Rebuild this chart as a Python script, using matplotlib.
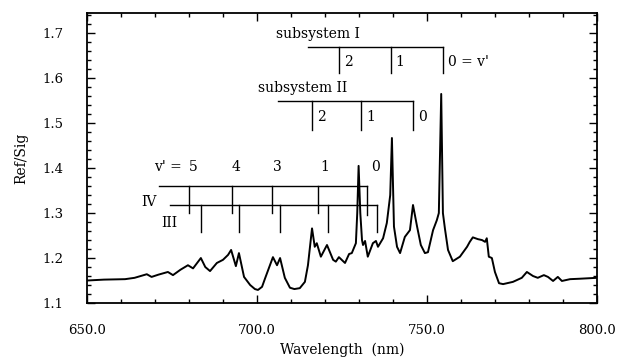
import matplotlib
matplotlib.use("Agg")
import matplotlib.pyplot as plt
from matplotlib.ticker import MultipleLocator, FormatStrFormatter

plt.rcParams['font.family'] = ['DejaVu Serif']

# spectrum
wavelength = [650, 655, 661.2, 664, 667.6, 669, 671, 673.8, 675.3, 677.5,
              679.7, 681.2, 683.5, 684.8, 686.2, 688.2, 690, 691.5, 692.4, 693.8,
              694.7, 696.2, 698, 699.4, 700.3, 701.5, 702.4, 704.7, 705.9, 706.8,
              708.2, 709.7, 711, 712.6, 714.1, 715, 716.2, 717, 717.6, 718.8,
              720.6, 722.4, 723.2, 724.1, 725.9, 727.1, 727.9, 729.1, 729.5, 729.9,
              730.4, 730.9, 731.2, 731.8, 732.6, 734.1, 735, 735.6, 737.1, 738.2,
              739.2, 739.7, 740.3, 741.2, 742.1, 743.5, 745, 745.9, 747.1, 748.2,
              749.4, 750.3, 751.8, 752.9, 753.5, 754.2, 754.7, 755.3, 756.2, 757.6,
              759.7, 761.8, 762.6, 763.5, 765, 766.2, 767.1, 767.6, 768.2, 769.1,
              770, 771.2, 772.4, 775.3, 777.9, 779.4, 781.2, 782.6, 784.4, 785.6,
              787.1, 788.5, 789.7, 792.1, 795, 800]
ratio = [1.150, 1.152, 1.153, 1.156, 1.164, 1.158, 1.163, 1.169, 1.162, 1.174,
         1.184, 1.177, 1.200, 1.180, 1.171, 1.189, 1.196, 1.207, 1.218, 1.182,
         1.211, 1.158, 1.140, 1.131, 1.129, 1.136, 1.155, 1.202, 1.184, 1.200,
         1.156, 1.134, 1.131, 1.133, 1.147, 1.184, 1.266, 1.225, 1.233, 1.203,
         1.229, 1.196, 1.192, 1.202, 1.189, 1.209, 1.211, 1.233, 1.300, 1.405,
         1.300, 1.240, 1.229, 1.238, 1.203, 1.233, 1.238, 1.225, 1.244, 1.278,
         1.340, 1.467, 1.270, 1.225, 1.211, 1.247, 1.262, 1.318, 1.270, 1.229,
         1.211, 1.213, 1.262, 1.284, 1.300, 1.565, 1.300, 1.265, 1.218, 1.193,
         1.203, 1.225, 1.236, 1.246, 1.242, 1.240, 1.236, 1.244, 1.203, 1.200,
         1.169, 1.144, 1.142, 1.147, 1.156, 1.169, 1.160, 1.156, 1.162, 1.158,
         1.149, 1.158, 1.149, 1.153, 1.154, 1.156]

# band-head assignments (nm)
sub1_ticks = [724.1, 739.4, 754.7]
sub1_labels = ["2", "1", "0 = v'"]
sub2_ticks = [716.2, 730.6, 745.9]
sub2_labels = ["2", "1", "0"]
iv_ticks = [680.0, 692.6, 704.4, 717.9, 732.4]
iii_ticks = [683.5, 694.7, 706.8, 720.9, 735.3]
vprime_labels = ["5", "4", "3", "1", "0"]
vprime_pos = [681.2, 693.8, 706.0, 719.8, 735.0]

fig = plt.figure(figsize=(6.33, 3.62), dpi=100)
ax = fig.add_axes([0.1374, 0.163, 0.8056, 0.801])

ax.plot(wavelength, ratio, color='black', lw=1.4)

fs = 10
lk = dict(color='black', lw=1.0)
# subsystem I
ax.plot([715.0, sub1_ticks[-1]], [1.669, 1.669], **lk)
for t in sub1_ticks:
    ax.plot([t, t], [1.669, 1.611], **lk)
for t, s in zip(sub1_ticks, sub1_labels):
    ax.text(t + 1.4, 1.636, s, ha='left', va='center', fontsize=fs)
ax.text(730.3, 1.698, "subsystem I", ha='right', va='center', fontsize=fs)

# subsystem II
ax.plot([706.2, sub2_ticks[-1]], [1.549, 1.549], **lk)
for t in sub2_ticks:
    ax.plot([t, t], [1.549, 1.484], **lk)
for t, s in zip(sub2_ticks, sub2_labels):
    ax.text(t + 1.6, 1.513, s, ha='left', va='center', fontsize=fs)
ax.text(726.5, 1.578, "subsystem II", ha='right', va='center', fontsize=fs)

# IV and III
ax.plot([671.2, iv_ticks[-1]], [1.360, 1.360], **lk)
for t in iv_ticks[:-1]:
    ax.plot([t, t], [1.360, 1.300], **lk)
ax.plot([iv_ticks[-1]] * 2, [1.360, 1.296], **lk)
ax.plot([674.4, iii_ticks[-1]], [1.318, 1.318], **lk)
for t in iii_ticks:
    ax.plot([t, t], [1.318, 1.258], **lk)
for x, s in zip(vprime_pos, vprime_labels):
    ax.text(x, 1.402, s, ha='center', va='center', fontsize=fs)
ax.text(678.0, 1.402, "v' =", ha='right', va='center', fontsize=fs)
ax.text(668.2, 1.324, "IV", ha='center', va='center', fontsize=fs)
ax.text(674.1, 1.278, "III", ha='center', va='center', fontsize=fs)

ax.set_xlim(650, 800)
ax.set_ylim(1.1, 1.745)
ax.xaxis.set_major_locator(MultipleLocator(50))
ax.xaxis.set_minor_locator(MultipleLocator(10))
ax.yaxis.set_major_locator(MultipleLocator(0.1))
ax.yaxis.set_minor_locator(MultipleLocator(0.02))
ax.xaxis.set_major_formatter(FormatStrFormatter('%.1f'))
ax.yaxis.set_major_formatter(FormatStrFormatter('%.1f'))
ax.tick_params(which='both', direction='in', top=True, right=True, width=1.0)
ax.tick_params(which='major', length=6)
ax.tick_params(which='minor', length=3)
ax.tick_params(axis='x', which='major', pad=15, labelsize=9.5)
ax.tick_params(axis='y', which='major', pad=17, labelsize=9.5)
for sp in ax.spines.values():
    sp.set_linewidth(1.3)

ax.set_xlabel("Wavelength  (nm)", fontsize=fs, labelpad=4)
ax.set_ylabel("Ref/Sig", fontsize=fs, labelpad=10)

fig.savefig("out.png", dpi=100)
